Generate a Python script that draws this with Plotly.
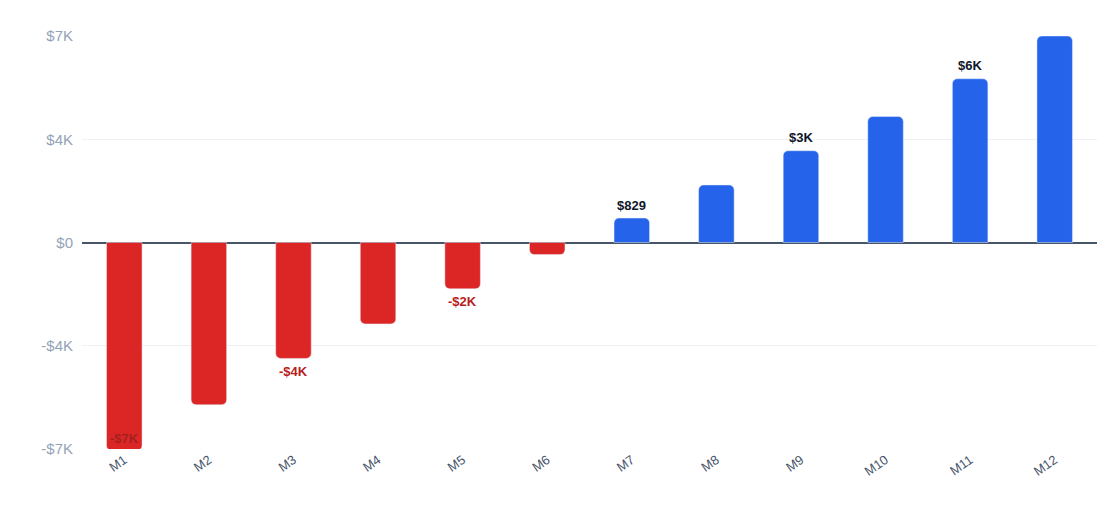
import plotly.graph_objects as go

months = ["M1", "M2", "M3", "M4", "M5", "M6", "M7", "M8", "M9", "M10", "M11", "M12"]
values = [-7050, -5500, -3930, -2760, -1570, -410, 829, 1950, 3110, 4270, 5550, 7000]
label_text = ["-$7K", "", "-$4K", "", "-$2K", "", "$829", "", "$3K", "", "$6K", ""]
tick_vals = [-7000, -3500, 0, 3500, 7000]
tick_text = ["-$7K", "-$4K", "$0", "$4K", "$7K"]

colors = ["#dc2626" if v < 0 else "#2563eb" for v in values]

fig = go.Figure(go.Bar(x=months, y=values, marker=dict(color=colors, cornerradius=5),
                       hoverinfo="x+y"))

for m, v, t in zip(months, values, label_text):
    if not t:
        continue
    if m == "M1":
        fig.add_annotation(x=m, y=-7000, text="<b>%s</b>" % t, showarrow=False, yshift=11,
                           font=dict(size=13, color="rgba(127,29,29,0.6)"))
    elif v < 0:
        fig.add_annotation(x=m, y=v, text="<b>%s</b>" % t, showarrow=False, yshift=-13,
                           font=dict(size=13, color="#b91c1c"))
    else:
        fig.add_annotation(x=m, y=v, text="<b>%s</b>" % t, showarrow=False, yshift=13,
                           font=dict(size=13, color="#0f172a"))

fig.update_layout(
    width=1120, height=531,
    margin=dict(l=74, r=31, t=28, b=90),
    paper_bgcolor="white", plot_bgcolor="white",
    font=dict(family="Liberation Sans, Arial, sans-serif"),
    bargap=0.58, showlegend=False,
    xaxis=dict(tickangle=-35, tickfont=dict(size=13, color="#475569"), showgrid=False,
               showline=False, ticks=""),
    yaxis=dict(range=[-7000, 7000], tickvals=tick_vals, ticktext=tick_text,
               tickfont=dict(size=15, color="#94a3b8"), gridcolor="#eef0f3",
               zeroline=True, zerolinecolor="#475569", zerolinewidth=1.5, ticks="",
               ticklabelstandoff=8),
)

fig.write_html("out.html")
